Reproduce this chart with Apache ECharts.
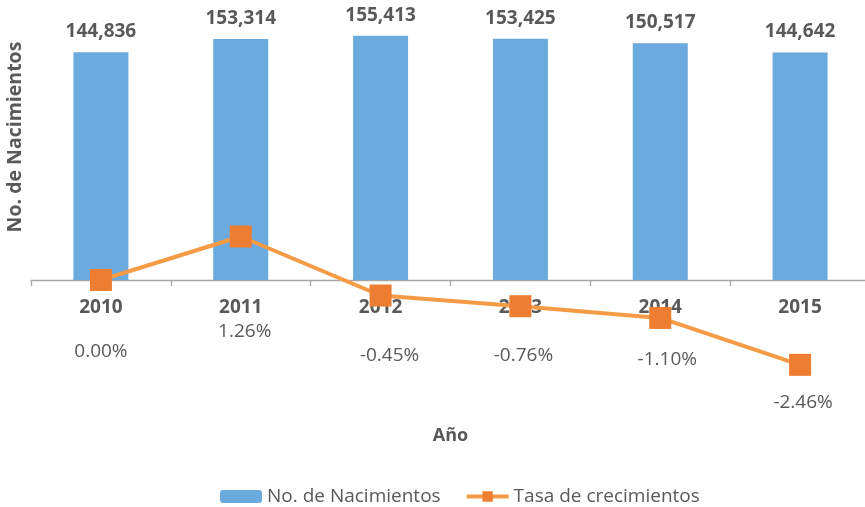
<!DOCTYPE html>
<html>
<head>
<meta charset="utf-8">
<script src="https://cdn.jsdelivr.net/npm/echarts@6/dist/echarts.min.js"></script>
<style>html,body{margin:0;padding:0;background:#fff}</style>
</head>
<body>
<div id="chart" style="width:865px;height:507px"></div>
<script>
// datos
var years = ['2010', '2011', '2012', '2013', '2014', '2015'];
var nacimientos = [144836, 153314, 155413, 153425, 150517, 144642];
var tasa = [0.00, 1.26, -0.45, -0.76, -1.10, -2.46];
// desplazamiento de etiquetas de la tasa, como en el original
var tasaLabelOffset = [[0, 72], [4, 95], [9, 60], [3, 49], [7, 42], [3, 38]];

var textColor = '#595959';
var fontFam = '"Open Sans", sans-serif';

var tasaData = tasa.map(function (v, i) {
    return { value: v, label: { offset: tasaLabelOffset[i] } };
});

var myChart = echarts.init(document.getElementById('chart'));
myChart.setOption({
    animation: false,
    textStyle: { fontFamily: fontFam },
    grid: [
        // barras: la base coincide con el eje de categorías
        { left: 31, top: 30, width: 839, height: 250, outerBoundsMode: 'none' },
        // línea: el cero cae sobre el mismo eje
        { left: 31, top: 30, width: 839, height: 350, outerBoundsMode: 'none' }
    ],
    legend: {
        left: 220,
        top: 487,
        padding: 0,
        itemWidth: 42,
        itemHeight: 13,
        itemGap: 24,
        lineStyle: { width: 4 },
        textStyle: { color: textColor, fontSize: 19, fontFamily: fontFam },
        data: ['No. de Nacimientos', 'Tasa de crecimientos']
    },
    xAxis: [
        {
            type: 'category',
            gridIndex: 0,
            data: years,
            boundaryGap: true,
            name: 'Año',
            nameLocation: 'middle',
            nameGap: 147,
            nameTextStyle: { color: textColor, fontSize: 18, fontWeight: 'bold', fontFamily: fontFam },
            axisLine: { lineStyle: { color: '#A6A6A6', width: 1.3 } },
            axisTick: { show: true, length: 6, lineStyle: { color: '#A6A6A6', width: 1.3 } },
            axisLabel: { margin: 18, color: textColor, fontSize: 19, fontWeight: 'bold', fontFamily: fontFam },
            splitLine: { show: false }
        },
        {
            type: 'category',
            gridIndex: 1,
            data: years,
            boundaryGap: true,
            show: false
        }
    ],
    yAxis: [
        { type: 'value', gridIndex: 0, show: false, min: 0, max: 159000, splitLine: { show: false } },
        { type: 'value', gridIndex: 1, show: false, min: -2.899, max: 7.246, splitLine: { show: false } }
    ],
    graphic: [{
        type: 'text',
        x: 15,
        y: 137,
        rotation: Math.PI / 2,
        style: {
            text: 'No. de Nacimientos',
            fill: textColor,
            font: 'bold 19.5px "Open Sans", sans-serif',
            align: 'center',
            verticalAlign: 'middle'
        }
    }],
    series: [
        {
            name: 'No. de Nacimientos',
            type: 'bar',
            xAxisIndex: 0,
            yAxisIndex: 0,
            barWidth: 55,
            data: nacimientos,
            itemStyle: { color: '#6BAADE' },
            label: {
                show: true,
                position: 'top',
                distance: 11,
                color: textColor,
                fontSize: 19,
                fontWeight: 'bold',
                fontFamily: fontFam,
                formatter: function (p) { return p.value.toLocaleString('en-US'); }
            }
        },
        {
            name: 'Tasa de crecimientos',
            type: 'line',
            xAxisIndex: 1,
            yAxisIndex: 1,
            data: tasaData,
            symbol: 'rect',
            symbolSize: 22,
            z: 5,
            lineStyle: { color: '#F59A45', width: 4 },
            itemStyle: { color: '#ED7D31' },
            label: {
                show: true,
                position: 'inside',
                color: textColor,
                fontSize: 19,
                fontFamily: fontFam,
                formatter: function (p) { return p.value.toFixed(2) + '%'; }
            }
        }
    ]
});
</script>
</body>
</html>
